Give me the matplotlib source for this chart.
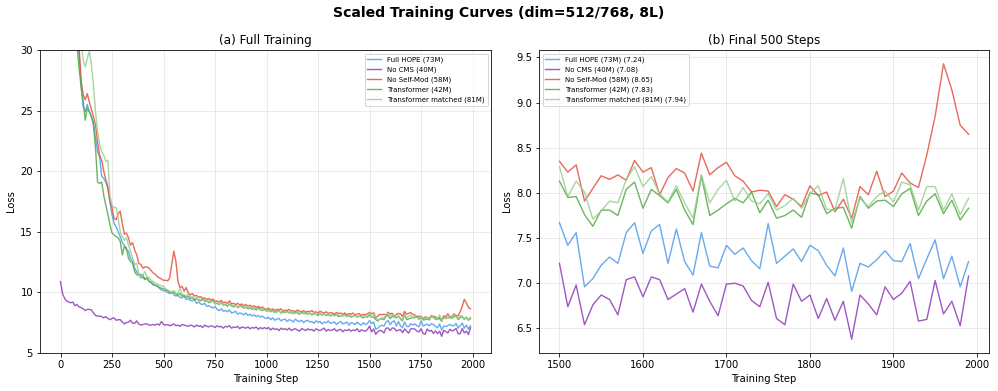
import numpy as np
import matplotlib
matplotlib.use("Agg")
import matplotlib.pyplot as plt

# steps logged every 10
steps = np.arange(0, 2000, 10)

names = ["Full HOPE (73M)", "No CMS (40M)", "No Self-Mod (58M)",
         "Transformer (42M)", "Transformer matched (81M)"]
colors = ["#4f9bea", "#8e3cb4", "#e5503e", "#55a847", "#98cf8e"]

# ---- loss, steps 0-490
hope_a = [55, 50, 46, 42.5, 39.5, 37, 35, 33, 31.5, 30.0,
          27.0, 25.3, 24.9, 25.5, 24.9, 24.5, 24.0, 22.7, 21.6, 21.2,
          19.6, 19.4, 19.1, 18.6, 17.5, 16.4, 15.7, 15.4, 15.0, 14.6,
          14.1, 13.9, 13.5, 13.4, 12.8, 12.6, 12.0, 11.7, 11.5, 11.5,
          11.2, 11.1, 11.2, 10.9, 10.8, 10.6, 10.6, 10.5, 10.35, 10.2]
nocms_a = [10.9, 9.9, 9.5, 9.3, 9.2, 9.15, 9.2, 8.9, 9.0, 8.8,
           8.75, 8.65, 8.5, 8.6, 8.6, 8.55, 8.3, 8.1, 8.05, 8.05,
           8.0, 7.9, 8.0, 7.85, 7.75, 7.85, 7.9, 7.7, 7.75, 7.75,
           7.55, 7.4, 7.5, 7.55, 7.7, 7.45, 7.45, 7.65, 7.4, 7.3,
           7.35, 7.4, 7.4, 7.3, 7.3, 7.35, 7.3, 7.4, 7.3, 7.6]
noself_a = [56, 51, 47, 43, 40, 37.5, 35.5, 33.5, 31.8, 30.2,
            27.5, 26.3, 25.9, 26.4, 25.7, 25.1, 24.5, 23.8, 22.4, 21.3,
            20.9, 20.0, 19.3, 18.7, 17.5, 17.0, 16.1, 16.0, 16.5, 16.7,
            15.7, 14.8, 14.9, 14.5, 13.9, 14.1, 13.5, 13.1, 12.4, 12.3,
            12.0, 12.1, 12.1, 12.0, 11.8, 11.6, 11.5, 11.3, 11.2, 11.1]
trans_a = [54, 49, 45, 41.5, 38.5, 36, 34, 32, 30.5, 28.5,
           27.0, 25.8, 24.2, 25.2, 24.9, 24.5, 23.8, 21.9, 19.1, 19.0,
           19.1, 18.0, 17.2, 16.4, 15.6, 14.9, 14.75, 14.6, 14.5, 14.2,
           13.1, 13.8, 13.65, 12.8, 12.55, 12.4, 11.7, 11.45, 11.45, 11.2,
           11.45, 11.05, 11.2, 10.9, 10.85, 10.7, 10.6, 10.55, 10.4, 10.35]
transm_a = [58, 53, 49, 45, 42, 39, 37, 35, 33, 31.5,
            30.5, 29.2, 28.6, 29.3, 29.9, 28.8, 27.1, 24.9, 23.3, 22.2,
            21.6, 21.3, 20.8, 20.9, 18.0, 17.2, 17.0, 17.0, 16.1, 15.0,
            14.6, 14.3, 14.5, 13.9, 13.4, 12.8, 12.3, 12.4, 11.5, 11.2,
            11.45, 11.7, 11.3, 11.2, 11.0, 10.9, 10.8, 10.7, 10.6, 10.55]

# ---- loss, steps 500-990
hope_b = [10.15, 10.1, 10.0, 9.9, 10.05, 9.8, 9.7, 9.75, 9.6, 9.55,
          9.7, 9.4, 9.5, 9.35, 9.3, 9.45, 9.1, 9.2, 9.05, 9.0,
          9.1, 8.85, 8.9, 8.8, 8.7, 8.85, 8.6, 8.5, 8.65, 8.45,
          8.5, 8.4, 8.55, 8.3, 8.35, 8.45, 8.2, 8.3, 8.25, 8.15,
          8.3, 8.1, 8.2, 8.05, 8.15, 8.0, 8.1, 7.95, 8.05, 7.9]
nocms_b = [7.35, 7.3, 7.35, 7.25, 7.3, 7.4, 7.25, 7.3, 7.2, 7.35,
           7.3, 7.25, 7.2, 7.3, 7.25, 7.15, 7.3, 7.2, 7.25, 7.1,
           7.3, 7.2, 7.15, 7.25, 7.2, 7.1, 7.25, 7.15, 7.2, 7.05,
           7.2, 7.15, 7.25, 7.05, 7.15, 7.1, 7.2, 7.0, 7.15, 7.1,
           7.05, 7.15, 7.0, 7.1, 7.05, 7.15, 6.95, 7.1, 7.0, 7.1]
noself_b = [11.0, 11.0, 10.95, 11.2, 12.3, 13.4, 12.6, 10.9, 10.4, 10.5,
            10.1, 10.4, 9.95, 9.8, 9.9, 9.7, 9.75, 9.6, 9.65, 9.5,
            9.55, 9.4, 9.5, 9.35, 9.45, 9.25, 9.3, 9.2, 9.35, 9.15,
            9.2, 9.1, 9.3, 9.05, 9.1, 9.0, 9.1, 8.95, 9.05, 8.9,
            9.0, 8.85, 8.95, 8.8, 8.9, 8.75, 8.85, 8.7, 8.8, 8.65]
trans_b = [10.3, 10.2, 10.15, 10.0, 9.95, 10.05, 9.85, 9.8, 9.9, 9.7,
           9.75, 9.6, 9.7, 9.5, 9.55, 9.4, 9.5, 9.35, 9.3, 9.45,
           9.25, 9.3, 9.15, 9.2, 9.35, 9.05, 9.1, 9.0, 9.15, 8.95,
           9.0, 8.85, 9.05, 8.9, 8.8, 8.95, 8.75, 8.85, 8.9, 8.7,
           8.8, 8.65, 8.75, 8.6, 8.7, 8.55, 8.75, 8.6, 8.5, 8.6]
transm_b = [10.5, 10.3, 10.2, 10.1, 10.0, 10.15, 9.95, 9.9, 10.35, 9.85,
            9.8, 9.7, 9.85, 9.6, 9.65, 9.5, 9.55, 9.4, 9.45, 9.35,
            9.4, 9.25, 9.3, 9.2, 9.3, 9.1, 9.15, 9.05, 9.1, 9.0,
            9.05, 8.95, 9.0, 8.85, 8.95, 8.9, 8.8, 8.9, 8.75, 8.85,
            8.7, 8.8, 8.65, 8.75, 8.6, 8.7, 8.65, 8.55, 8.65, 8.55]

# ---- loss, steps 1000-1490
hope_c = [7.85, 7.95, 7.75, 7.9, 7.7, 7.8, 7.85, 7.65, 7.75, 7.8,
          7.6, 7.75, 7.7, 7.55, 7.8, 7.65, 7.6, 7.7, 7.5, 7.65,
          7.7, 7.55, 7.6, 7.45, 7.65, 7.55, 7.6, 7.4, 7.55, 7.5,
          7.65, 7.45, 7.5, 7.55, 7.35, 7.5, 7.6, 7.4, 7.45, 7.55,
          7.3, 7.5, 7.45, 7.35, 7.55, 7.4, 7.3, 7.5, 7.35, 7.45]
nocms_c = [7.0, 7.1, 6.9, 7.05, 6.95, 7.0, 6.85, 7.05, 6.95, 7.0,
           6.9, 7.05, 6.85, 6.95, 7.0, 6.9, 6.8, 7.0, 6.95, 6.85,
           7.0, 6.9, 6.95, 6.8, 7.0, 6.9, 6.85, 6.95, 7.05, 6.8,
           6.95, 6.85, 6.9, 7.0, 6.8, 6.9, 6.95, 6.75, 6.9, 6.85,
           6.95, 6.8, 6.9, 6.85, 7.0, 6.75, 6.9, 6.85, 6.8, 6.95]
noself_c = [8.6, 8.7, 8.55, 8.65, 8.5, 8.6, 8.55, 8.65, 8.45, 8.55,
            8.5, 8.6, 8.45, 8.5, 8.4, 8.55, 8.45, 8.4, 8.5, 8.35,
            8.45, 8.4, 8.5, 8.35, 8.4, 8.3, 8.45, 8.35, 8.3, 8.4,
            8.25, 8.35, 8.3, 8.2, 8.35, 8.25, 8.3, 8.2, 8.3, 8.15,
            8.25, 8.2, 8.3, 8.15, 8.2, 8.25, 8.1, 8.2, 8.15, 8.25]
trans_c = [8.45, 8.55, 8.4, 8.5, 8.35, 8.45, 8.5, 8.3, 8.4, 8.35,
           8.45, 8.3, 8.35, 8.25, 8.4, 8.3, 8.2, 8.35, 8.25, 8.3,
           8.2, 8.3, 8.15, 8.25, 8.2, 8.1, 8.25, 8.15, 8.2, 8.1,
           8.15, 8.05, 8.2, 8.1, 8.15, 8.0, 8.1, 8.05, 8.15, 8.0,
           8.1, 7.95, 8.05, 8.1, 7.95, 8.05, 8.0, 7.9, 8.05, 7.95]
transm_c = [8.5, 8.45, 8.55, 8.4, 8.45, 8.35, 8.5, 8.4, 8.3, 8.45,
            8.35, 8.4, 8.3, 8.35, 8.25, 8.4, 8.3, 8.25, 8.35, 8.2,
            8.3, 8.25, 8.2, 8.3, 8.15, 8.25, 8.2, 8.1, 8.25, 8.15,
            8.2, 8.1, 8.15, 8.05, 8.2, 8.1, 8.05, 8.15, 8.1, 8.0,
            8.1, 8.05, 8.0, 8.1, 8.0, 8.05, 7.95, 8.1, 8.0, 8.05]

# ---- loss, steps 1500-1990 (final 500)
hope_d = [7.67, 7.42, 7.56, 6.96, 7.05, 7.20, 7.29, 7.22, 7.56, 7.67,
          7.33, 7.58, 7.65, 7.22, 7.60, 7.24, 7.09, 7.56, 7.19, 7.17,
          7.42, 7.32, 7.39, 7.25, 7.16, 7.66, 7.22, 7.30, 7.38, 7.24,
          7.42, 7.36, 7.20, 7.08, 7.39, 6.91, 7.22, 7.18, 7.26, 7.36,
          7.25, 7.24, 7.44, 7.05, 7.27, 7.48, 7.05, 7.30, 6.96, 7.24]
nocms_d = [7.22, 6.74, 6.98, 6.54, 6.76, 6.87, 6.82, 6.65, 7.04, 7.07,
           6.85, 7.07, 7.04, 6.82, 6.88, 6.94, 6.68, 6.99, 6.80, 6.64,
           6.99, 7.00, 6.97, 6.81, 6.74, 7.01, 6.61, 6.54, 6.99, 6.80,
           6.87, 6.61, 6.83, 6.59, 6.80, 6.38, 6.87, 6.77, 6.65, 6.96,
           6.82, 6.89, 7.02, 6.58, 6.60, 7.03, 6.66, 6.80, 6.53, 7.08]
noself_d = [8.35, 8.23, 8.31, 7.91, 8.05, 8.19, 8.15, 8.20, 8.14, 8.36,
            8.23, 8.28, 7.98, 8.17, 8.27, 8.22, 8.02, 8.44, 8.20, 8.28,
            8.34, 8.19, 8.13, 8.01, 8.03, 8.02, 7.85, 7.98, 7.93, 7.85,
            8.08, 7.97, 8.01, 7.79, 7.93, 7.72, 8.07, 7.98, 8.24, 7.96,
            8.02, 8.22, 8.11, 8.06, 8.42, 8.85, 9.43, 9.14, 8.75, 8.65]
trans_d = [8.13, 7.95, 7.96, 7.76, 7.63, 7.81, 7.81, 7.75, 8.04, 8.12,
           7.83, 8.04, 7.97, 7.89, 8.04, 7.81, 7.65, 8.19, 7.75, 7.81,
           7.88, 7.94, 7.89, 8.01, 7.78, 7.92, 7.72, 7.75, 7.81, 7.73,
           8.00, 7.98, 7.77, 7.83, 7.84, 7.61, 7.96, 7.83, 7.91, 7.92,
           7.85, 7.99, 8.05, 7.75, 7.91, 7.99, 7.77, 7.92, 7.70, 7.83]
transm_d = [8.29, 7.96, 8.13, 8.01, 7.71, 7.80, 7.91, 7.89, 8.15, 8.29,
            8.07, 8.18, 7.99, 7.90, 8.08, 7.89, 7.72, 8.20, 7.89, 8.04,
            8.14, 7.91, 8.06, 7.91, 7.88, 7.99, 7.81, 7.86, 7.94, 7.83,
            7.99, 8.08, 7.82, 7.81, 8.16, 7.67, 7.94, 7.85, 7.96, 8.02,
            7.90, 8.12, 8.09, 7.81, 8.07, 8.07, 7.81, 7.99, 7.76, 7.94]

curves = [
    hope_a + hope_b + hope_c + hope_d,
    nocms_a + nocms_b + nocms_c + nocms_d,
    noself_a + noself_b + noself_c + noself_d,
    trans_a + trans_b + trans_c + trans_d,
    transm_a + transm_b + transm_c + transm_d,
]
for c in curves:
    assert len(c) == len(steps), len(c)

fig = plt.figure(figsize=(998 / 72, 391 / 72), dpi=72)
ax1 = fig.add_axes([40 / 998, 38 / 391, 451 / 998, 303 / 391])
ax2 = fig.add_axes([539 / 998, 38 / 391, 450 / 998, 303 / 391])

for name, col, y in zip(names, colors, curves):
    ax1.plot(steps, y, color=col, lw=1.4, alpha=0.85, label=name)
ax1.set_ylim(5, 30)
ax1.set_xlabel("Training Step")
ax1.set_ylabel("Loss")
ax1.set_title("(a) Full Training")
ax1.grid(True, alpha=0.3)
ax1.legend(loc="upper right", fontsize=7)

last = steps >= 1500
for name, col, y in zip(names, colors, curves):
    y = np.array(y)[last]
    ax2.plot(steps[last], y, color=col, lw=1.4, alpha=0.85,
             label=f"{name} ({y[-1]:.2f})")
ax2.set_xlabel("Training Step")
ax2.set_ylabel("Loss")
ax2.set_title("(b) Final 500 Steps")
ax2.grid(True, alpha=0.3)
ax2.legend(loc="upper left", fontsize=7)

fig.suptitle("Scaled Training Curves (dim=512/768, 8L)", fontsize=14,
             fontweight="bold", y=0.985)
fig.savefig("out.png", dpi=72)
